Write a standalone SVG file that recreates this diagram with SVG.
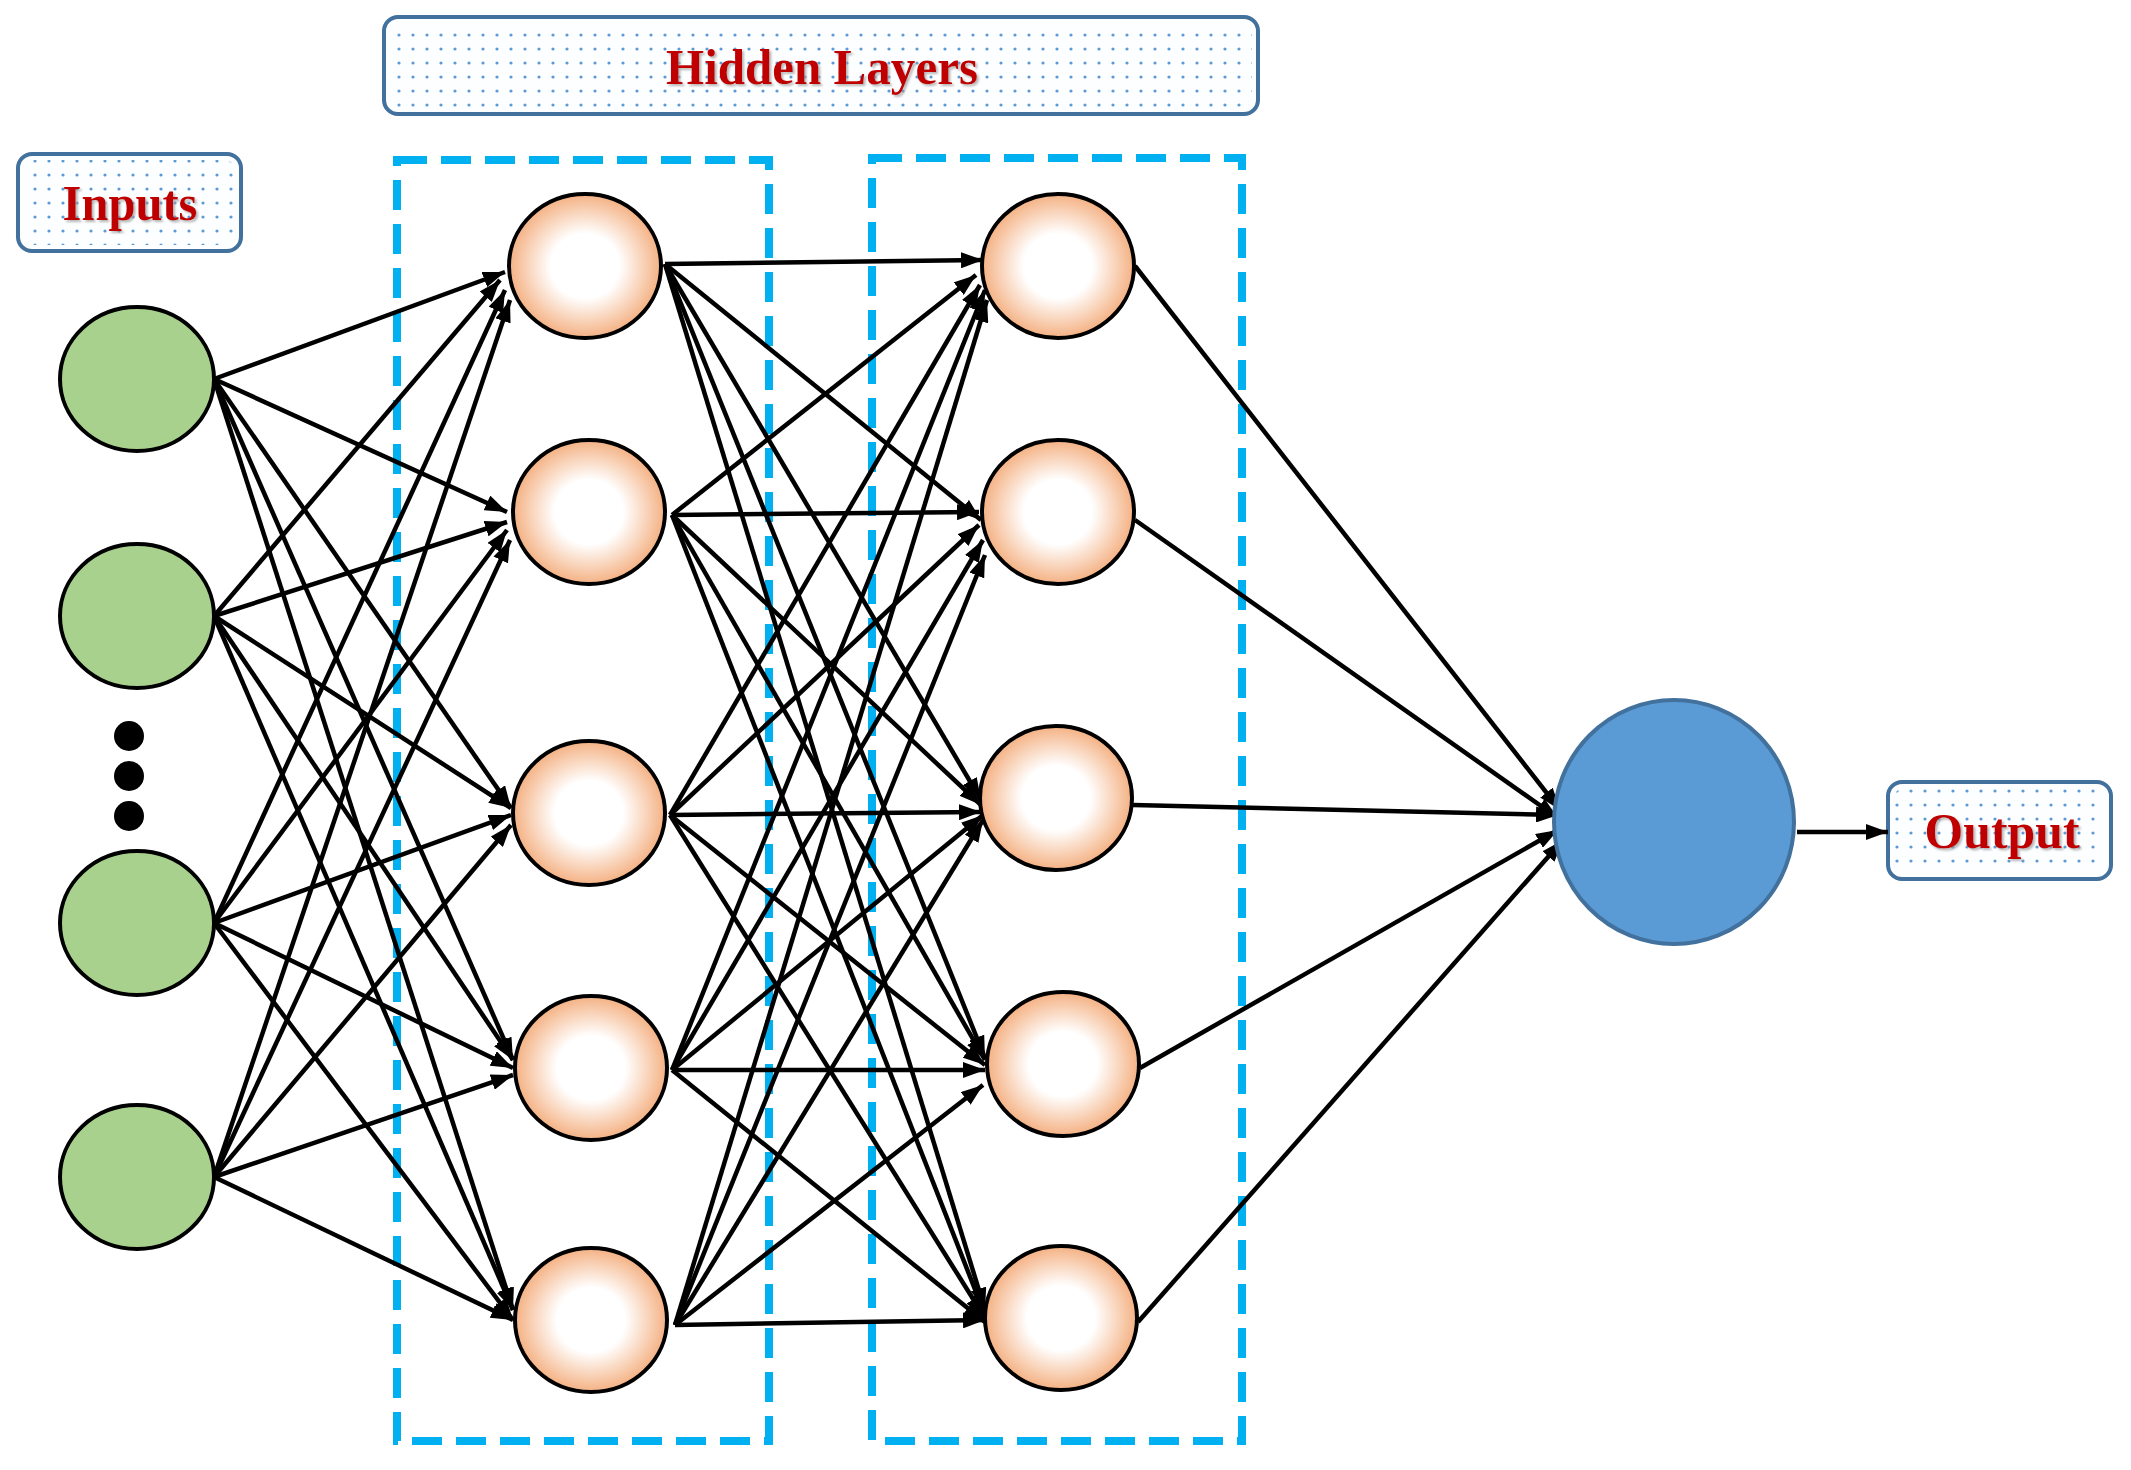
<svg xmlns="http://www.w3.org/2000/svg" width="2131" height="1470" viewBox="0 0 2131 1470">
<style>
.lbl{fill:#FDFEFF;stroke:#41719C;stroke-width:4}
.lbl2{fill:url(#dots);stroke:none}
.txt{font-family:"Liberation Serif",serif;font-weight:bold;font-size:50px;fill:#C00000;text-anchor:middle}
.dash{fill:none;stroke:#00B0F0;stroke-width:8;stroke-dasharray:30,14}
.in{fill:#A9D18E;stroke:#000;stroke-width:4}
.hid{fill:url(#peach);stroke:#000;stroke-width:4}
.c line{stroke:#000;stroke-width:4.5;marker-end:url(#ah)}
</style>
<defs>
<pattern id="dots" width="14" height="14" patternUnits="userSpaceOnUse"><circle cx="7" cy="7" r="1.6" fill="#5B9BD5"/></pattern>
<radialGradient id="peach" cx="0.5" cy="0.5" r="0.5"><stop offset="0.45" stop-color="#fff"/><stop offset="1" stop-color="#F4B183"/></radialGradient>
<marker id="ah" markerWidth="22" markerHeight="16" refX="22" refY="8" orient="auto" markerUnits="userSpaceOnUse"><path d="M0,0 L22,8 L0,16 Z" fill="#000"/></marker>
<filter id="sh"><feDropShadow dx="2" dy="2" stdDeviation="1" flood-color="#999" flood-opacity="0.7"/></filter>
</defs>
<rect width="2131" height="1470" fill="#fff"/>
<g id="hiddenLabel"><rect class="lbl" x="384" y="17" width="874" height="97" rx="14"/><rect class="lbl2" x="390" y="23" width="862" height="85" rx="10"/><text class="txt" x="822" y="84" textLength="312" lengthAdjust="spacingAndGlyphs" filter="url(#sh)">Hidden Layers</text></g>
<g id="inputsLabel"><rect class="lbl" x="18" y="154" width="223" height="97" rx="14"/><rect class="lbl2" x="24" y="160" width="211" height="85" rx="10"/><text class="txt" x="130" y="220" textLength="135" lengthAdjust="spacingAndGlyphs" filter="url(#sh)">Inputs</text></g>
<g id="outputLabel"><rect class="lbl" x="1888" y="782" width="223" height="97" rx="14"/><rect class="lbl2" x="1894" y="788" width="211" height="85" rx="10"/><text class="txt" x="2002" y="848" textLength="155" lengthAdjust="spacingAndGlyphs" filter="url(#sh)">Output</text></g>
<g id="layer1Box"><rect class="dash" x="397" y="160" width="372" height="1281"/></g>
<g id="layer2Box"><rect class="dash" x="872" y="158" width="370" height="1283"/></g>
<g id="connectors" class="c">
<line x1="214" y1="379" x2="505" y2="272"/><line x1="214" y1="379" x2="507" y2="512"/><line x1="214" y1="379" x2="511" y2="808"/><line x1="214" y1="379" x2="513" y2="1060"/><line x1="214" y1="379" x2="513" y2="1310"/>
<line x1="214" y1="616" x2="500" y2="280"/><line x1="214" y1="616" x2="507" y2="522"/><line x1="214" y1="616" x2="511" y2="808"/><line x1="214" y1="616" x2="513" y2="1060"/><line x1="214" y1="616" x2="513" y2="1310"/>
<line x1="214" y1="923" x2="505" y2="290"/><line x1="214" y1="923" x2="507" y2="530"/><line x1="214" y1="923" x2="511" y2="815"/><line x1="214" y1="923" x2="513" y2="1068"/><line x1="214" y1="923" x2="513" y2="1320"/>
<line x1="214" y1="1177" x2="510" y2="300"/><line x1="214" y1="1177" x2="510" y2="540"/><line x1="214" y1="1177" x2="511" y2="825"/><line x1="214" y1="1177" x2="513" y2="1075"/><line x1="214" y1="1177" x2="513" y2="1320"/>
<line x1="665" y1="264" x2="983" y2="260"/><line x1="665" y1="264" x2="981" y2="520"/><line x1="665" y1="264" x2="981" y2="800"/><line x1="665" y1="264" x2="985" y2="1058"/><line x1="665" y1="264" x2="985" y2="1310"/>
<line x1="672" y1="515" x2="976" y2="275"/><line x1="672" y1="515" x2="979" y2="512"/><line x1="672" y1="515" x2="981" y2="805"/><line x1="672" y1="515" x2="985" y2="1060"/><line x1="672" y1="515" x2="985" y2="1315"/>
<line x1="670" y1="815" x2="980" y2="285"/><line x1="670" y1="815" x2="979" y2="525"/><line x1="670" y1="815" x2="981" y2="812"/><line x1="670" y1="815" x2="985" y2="1065"/><line x1="670" y1="815" x2="985" y2="1318"/>
<line x1="672" y1="1070" x2="985" y2="290"/><line x1="672" y1="1070" x2="983" y2="540"/><line x1="672" y1="1070" x2="983" y2="815"/><line x1="672" y1="1070" x2="985" y2="1070"/><line x1="672" y1="1070" x2="985" y2="1322"/>
<line x1="675" y1="1325" x2="987" y2="300"/><line x1="675" y1="1325" x2="985" y2="555"/><line x1="675" y1="1325" x2="983" y2="820"/><line x1="675" y1="1325" x2="983" y2="1085"/><line x1="675" y1="1325" x2="985" y2="1320"/>
<line x1="1135" y1="266" x2="1560" y2="810"/><line x1="1135" y1="520" x2="1558" y2="818"/><line x1="1133" y1="805" x2="1558" y2="815"/><line x1="1140" y1="1068" x2="1558" y2="830"/><line x1="1138" y1="1322" x2="1563" y2="840"/>
<line x1="1797" y1="832" x2="1888" y2="832"/>
</g>
<g id="in1"><ellipse class="in" cx="137" cy="379" rx="77" ry="72"/></g>
<g id="in2"><ellipse class="in" cx="137" cy="616" rx="77" ry="72"/></g>
<g id="dots"><circle cx="129" cy="736" r="15"/><circle cx="129" cy="776" r="15"/><circle cx="129" cy="816" r="15"/></g>
<g id="in3"><ellipse class="in" cx="137" cy="923" rx="77" ry="72"/></g>
<g id="in4"><ellipse class="in" cx="137" cy="1177" rx="77" ry="72"/></g>
<g id="h1a"><ellipse class="hid" cx="585" cy="266" rx="76" ry="72"/></g>
<g id="h1b"><ellipse class="hid" cx="589" cy="512" rx="76" ry="72"/></g>
<g id="h1c"><ellipse class="hid" cx="589" cy="813" rx="76" ry="72"/></g>
<g id="h1d"><ellipse class="hid" cx="591" cy="1068" rx="76" ry="72"/></g>
<g id="h1e"><ellipse class="hid" cx="591" cy="1320" rx="76" ry="72"/></g>
<g id="h2a"><ellipse class="hid" cx="1058" cy="266" rx="76" ry="72"/></g>
<g id="h2b"><ellipse class="hid" cx="1058" cy="512" rx="76" ry="72"/></g>
<g id="h2c"><ellipse class="hid" cx="1056" cy="798" rx="76" ry="72"/></g>
<g id="h2d"><ellipse class="hid" cx="1063" cy="1064" rx="76" ry="72"/></g>
<g id="h2e"><ellipse class="hid" cx="1061" cy="1318" rx="76" ry="72"/></g>
<g id="out"><ellipse cx="1674" cy="822" rx="120" ry="122" fill="#5B9BD5" stroke="#41719C" stroke-width="4"/></g>
</svg>
